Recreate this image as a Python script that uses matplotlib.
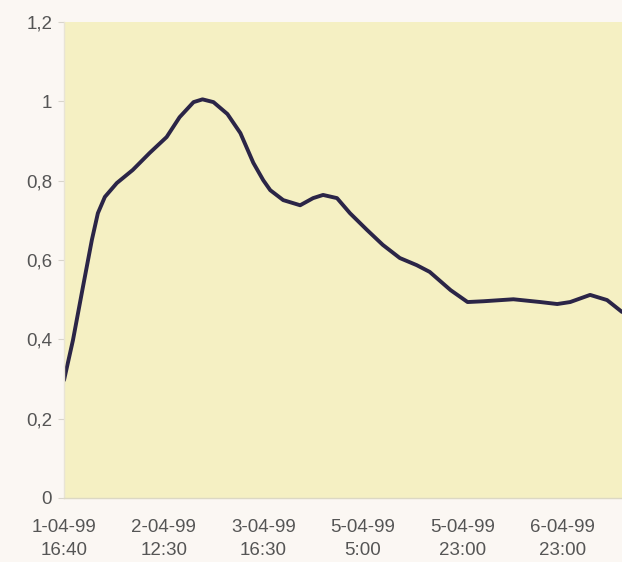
import matplotlib
matplotlib.use("Agg")
import matplotlib.pyplot as plt

# ---- data ----
x_labels = ["1-04-99\n16:40", "2-04-99\n12:30", "3-04-99\n16:30",
            "5-04-99\n5:00", "5-04-99\n23:00", "6-04-99\n23:00"]
y_ticks = [0, 0.2, 0.4, 0.6, 0.8, 1.0, 1.2]
y_tick_labels = ["0", "0,2", "0,4", "0,6", "0,8", "1", "1,2"]

x_pos = [0.0, 0.09, 0.19, 0.28, 0.34, 0.41, 0.53, 0.69, 0.86, 1.03, 1.16,
         1.30, 1.39, 1.50, 1.64, 1.77, 1.90, 2.00, 2.07, 2.20, 2.37, 2.50,
         2.60, 2.74, 2.87, 3.04, 3.20, 3.37, 3.54, 3.67, 3.88, 4.05, 4.21,
         4.51, 4.78, 4.95, 5.08, 5.28, 5.45, 5.60]
values = [0.297, 0.398, 0.532, 0.651, 0.718, 0.759, 0.794, 0.827, 0.870,
          0.910, 0.960, 0.998, 1.005, 0.998, 0.968, 0.920, 0.845, 0.801,
          0.776, 0.751, 0.738, 0.756, 0.764, 0.756, 0.718, 0.676, 0.638,
          0.605, 0.587, 0.570, 0.524, 0.494, 0.496, 0.501, 0.494, 0.489,
          0.494, 0.512, 0.499, 0.469]

plt.rcParams['font.family'] = ['Liberation Sans', 'DejaVu Sans']

fig = plt.figure(figsize=(6.22, 5.62), dpi=100, facecolor='#FBF7F3')
ax = fig.add_axes([64/622, 1 - 498/562, 1 - 64/622, (498 - 22)/562])
ax.set_facecolor('#F5F0C3')

ax.plot(x_pos, values, color='#2B2547', linewidth=2.8,
        solid_joinstyle='round', solid_capstyle='round', antialiased=True)

ax.set_xlim(0, 5.6)
ax.set_ylim(0, 1.2)

ax.set_yticks(y_ticks)
ax.set_yticklabels(y_tick_labels)
ax.set_xticks(range(len(x_labels)))
ax.set_xticklabels(x_labels, linespacing=1.5)

for s in ['top', 'right']:
    ax.spines[s].set_visible(False)
ax.spines['left'].set_color('#E8E4D6')
ax.spines['bottom'].set_color('#DCD8C4')
ax.spines['left'].set_linewidth(1)
ax.spines['bottom'].set_linewidth(1)

ax.tick_params(axis='y', length=4.5, color='#D8D4CC', pad=4,
               labelsize=13.5, labelcolor='#555555')
ax.tick_params(axis='x', length=0, pad=15,
               labelsize=13.5, labelcolor='#555555')

fig.savefig('out.png', dpi=100, facecolor=fig.get_facecolor())
